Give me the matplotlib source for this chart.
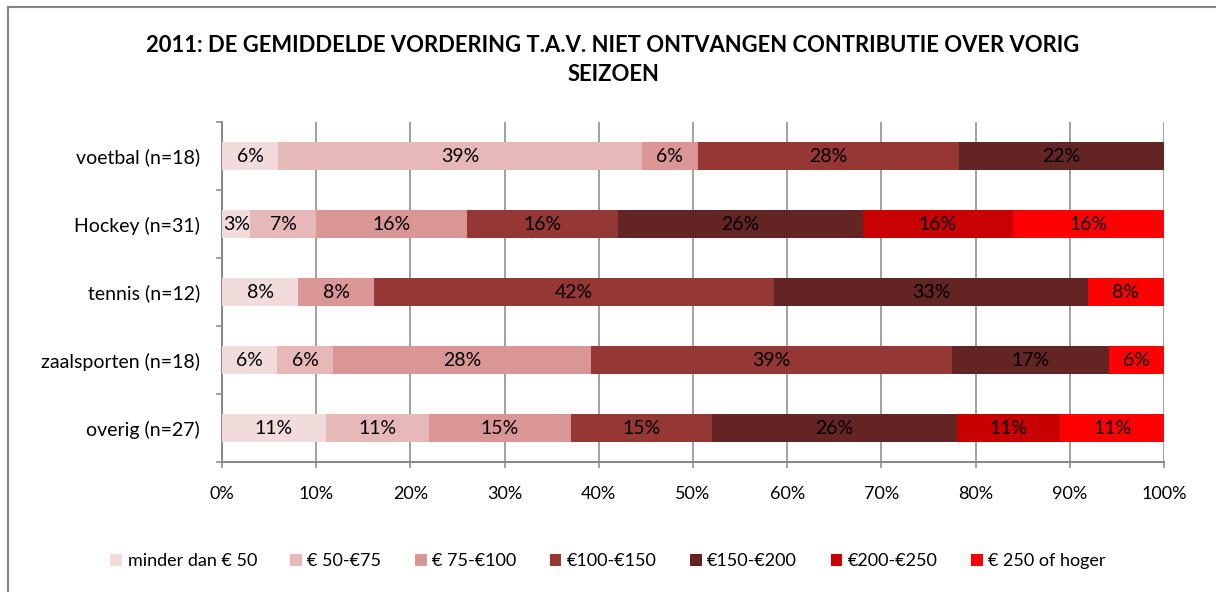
from matplotlib import pyplot as plt
import numpy as np

plt.rcParams["font.family"] = ["Lato", "DejaVu Sans"]

categories = [
    "voetbal (n=18)",
    "Hockey (n=31)",
    "tennis (n=12)",
    "zaalsporten (n=18)",
    "overig (n=27)",
]
series = [
    "minder dan € 50",
    "€ 50-€75",
    "€ 75-€100",
    "€100-€150",
    "€150-€200",
    "€200-€250",
    "€ 250 of hoger",
]
# percentages as printed in the bars (per category, per series)
minder_50 = [6, 3, 8, 6, 11]
e50_75 = [39, 7, 0, 6, 11]
e75_100 = [6, 16, 8, 28, 15]
e100_150 = [28, 16, 42, 39, 15]
e150_200 = [22, 26, 33, 17, 26]
e200_250 = [0, 16, 0, 0, 11]
e250_plus = [0, 16, 8, 6, 11]

colors = ["#f2dcdb", "#e6b9b8", "#d99694", "#953735", "#632523", "#c80000", "#ff0000"]

values = np.array([minder_50, e50_75, e75_100, e100_150, e150_200, e200_250, e250_plus], dtype=float)
# 100% stacked: each row scaled to its own total
totals = values.sum(axis=0)
shares = values / totals * 100

fig = plt.figure(figsize=(12.16, 5.92), dpi=100)
ax = fig.add_axes([222 / 1216, 1 - 462 / 592, (1164 - 222) / 1216, (462 - 122) / 592])

y = np.arange(len(categories))
left = np.zeros(len(categories))
for i, name in enumerate(series):
    bars = ax.barh(y, shares[i], left=left, height=0.4, color=colors[i], label=name, zorder=3)
    labels = [f"{int(v)}%" if v > 0 else "" for v in values[i]]
    ax.bar_label(bars, labels=labels, label_type="center", fontsize=14, color="black", zorder=4)
    left += shares[i]

ax.set_xlim(0, 100)
ax.set_ylim(len(categories) - 0.5, -0.5)
ax.set_xticks(np.arange(0, 101, 10))
ax.set_xticklabels([f"{t}%" for t in range(0, 101, 10)], fontsize=13)
ax.set_yticks(y)
ax.set_yticklabels(categories, fontsize=14)
ax.set_yticks(np.arange(-0.5, len(categories)), minor=True)

gray = "#868686"
ax.grid(axis="x", color=gray, linewidth=1.1, zorder=0)
ax.tick_params(axis="y", which="major", length=0, pad=16)
ax.tick_params(axis="y", which="minor", length=4.5, width=1.1, color=gray, direction="out")
ax.tick_params(axis="x", which="major", length=4.5, width=1.1, color=gray, direction="out", pad=13)
for s in ["top", "right"]:
    ax.spines[s].set_visible(False)
for s in ["left", "bottom"]:
    ax.spines[s].set_color(gray)
    ax.spines[s].set_linewidth(1.4)

fig.text(613 / 1216, 1 - 60 / 592,
         "2011: DE GEMIDDELDE VORDERING T.A.V. NIET ONTVANGEN CONTRIBUTIE OVER VORIG\nSEIZOEN",
         ha="center", va="center", fontsize=15.8, fontweight="bold", linespacing=1.45)

fig.legend(loc="center", bbox_to_anchor=(0.5, 1 - 561 / 592), ncol=7, frameon=False,
           fontsize=13, handlelength=0.65, handleheight=0.65, handletextpad=0.3, columnspacing=1.85)

# chart border (only top/left visible in the original crop)
fig.add_artist(plt.Line2D([8 / 1216, 8 / 1216], [0, 1 - 7 / 592], color=gray, lw=1.5))
fig.add_artist(plt.Line2D([8 / 1216, 1], [1 - 7 / 592, 1 - 7 / 592], color=gray, lw=1.5))

fig.savefig("out.png", dpi=100)
